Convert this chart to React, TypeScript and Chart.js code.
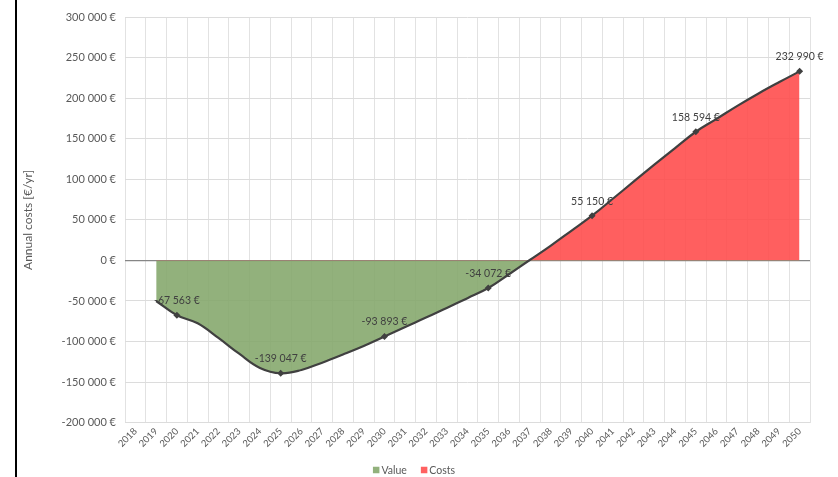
import React, { useEffect, useRef } from 'react';
import { Chart, registerables } from 'chart.js';

Chart.register(...registerables);

const years: string[] = [
  '2018', '2019', '2020', '2021', '2022', '2023', '2024', '2025', '2026', '2027', '2028',
  '2029', '2030', '2031', '2032', '2033', '2034', '2035', '2036', '2037', '2038', '2039',
  '2040', '2041', '2042', '2043', '2044', '2045', '2046', '2047', '2048', '2049', '2050',
];

const annualCosts: (number | null)[] = [
  null, -50000, -67563, -77500, -95500, -115000, -132500, -139047, -135000, -126000, -116000,
  -105500, -93893, -82000, -70500, -58500, -46500, -34072, -17000, 500, 18000, 36500,
  55150, 76000, 97000, 118000, 138500, 158594, 174500, 190500, 205500, 219500, 232990,
];

const labeledYears: string[] = ['2020', '2025', '2030', '2035', '2040', '2045', '2050'];

const legendNames: string[] = ['Value', 'Costs'];
const legendColors: string[] = ['rgb(146,177,124)', 'rgb(255,97,97)'];

const yMin = -200000;
const yMax = 300000;
const yStep = 50000;

const FONT = "Lato, 'Open Sans', 'DejaVu Sans', sans-serif";

function fmt(n: number): string {
  const s = Math.abs(Math.round(n)).toString().replace(/\B(?=(\d{3})+(?!\d))/g, ' ');
  return (n < 0 ? '-' : '') + s + ' €';
}

const dataLabelPlugin = {
  id: 'dataLabelPlugin',
  afterDatasetsDraw(chart: any) {
    const meta = chart.getDatasetMeta(0);
    const ctx = chart.ctx;
    ctx.save();
    ctx.font = `10.5px ${FONT}`;
    ctx.fillStyle = '#404040';
    ctx.textAlign = 'center';
    ctx.textBaseline = 'middle';
    labeledYears.forEach((yr) => {
      const i = years.indexOf(yr);
      const v = annualCosts[i];
      const pt = meta.data[i];
      if (v == null || !pt) return;
      ctx.fillText(fmt(v), pt.x, pt.y - 14.5);
    });
    ctx.restore();
  },
};

const legendPlugin = {
  id: 'customLegend',
  afterDraw(chart: any) {
    const ctx = chart.ctx;
    ctx.save();
    ctx.font = `10.5px ${FONT}`;
    ctx.textBaseline = 'middle';
    ctx.textAlign = 'left';
    const box = 6.5;
    const gap = 2;
    const itemGap = 14;
    const widths = legendNames.map((n) => box + gap + ctx.measureText(n).width);
    const total = widths.reduce((a, b) => a + b, 0) + itemGap * (legendNames.length - 1);
    let x = 414 - total / 2;
    const cy = 470;
    legendNames.forEach((n, k) => {
      ctx.fillStyle = legendColors[k];
      ctx.fillRect(x, cy - box / 2, box, box);
      ctx.fillStyle = '#595959';
      ctx.fillText(n, x + box + gap, cy + 0.5);
      x += widths[k] + itemGap;
    });
    ctx.restore();
  },
};

export default function App() {
  const canvasRef = useRef<HTMLCanvasElement | null>(null);

  useEffect(() => {
    const canvas = canvasRef.current;
    if (!canvas) return;
    const pointRadius = years.map((y) => (labeledYears.includes(y) ? 3.5 : 0));
    const chart = new Chart(canvas, {
      type: 'line',
      data: {
        labels: years,
        datasets: [
          {
            label: 'Annual costs',
            data: annualCosts,
            borderColor: '#404040',
            borderWidth: 2.2,
            tension: 0.4,
            fill: { target: 'origin', above: 'rgba(255,73,73,0.88)', below: 'rgba(131,166,106,0.88)' },
            pointRadius,
            pointHoverRadius: pointRadius,
            pointStyle: 'rectRot',
            pointBackgroundColor: '#404040',
            pointBorderColor: '#404040',
            pointBorderWidth: 0,
            spanGaps: false,
          } as any,
        ],
      },
      options: {
        responsive: false,
        animation: false,
        layout: { padding: { left: 0, right: 28, top: 17, bottom: 0 } },
        plugins: {
          legend: { display: false },
          tooltip: { enabled: false },
        },
        scales: {
          x: {
            type: 'category',
            offset: true,
            grid: { offset: true, color: '#e2e2e2', drawTicks: false, lineWidth: 1 },
            border: { display: false },
            ticks: {
              autoSkip: false,
              maxRotation: 45,
              minRotation: 45,
              color: '#595959',
              padding: 3,
              font: { family: FONT, size: 9.5 },
            },
            afterFit(scale: any) {
              scale.height = 54.3;
            },
          },
          y: {
            min: yMin,
            max: yMax,
            ticks: {
              stepSize: yStep,
              color: '#595959',
              padding: 9,
              font: { family: FONT, size: 11 },
              callback: (v: any) => fmt(Number(v)),
            },
            grid: {
              drawTicks: false,
              color: (c: any) => (c.tick && c.tick.value === 0 ? '#868686' : '#dcdcdc'),
              lineWidth: (c: any) => (c.tick && c.tick.value === 0 ? 1.3 : 1),
            },
            border: { display: false },
            title: {
              display: true,
              text: 'Annual costs [€/yr]',
              color: '#595959',
              font: { family: FONT, size: 12 },
              padding: { top: 21, bottom: 0 },
            },
            afterFit(scale: any) {
              scale.width = 125;
            },
          },
        },
      },
      plugins: [dataLabelPlugin, legendPlugin],
    });
    return () => chart.destroy();
  }, []);

  return (
    <div style={{ position: 'fixed', left: 0, top: 0, width: 838, height: 477, background: '#fff' }}>
      <div style={{ position: 'absolute', left: 15, top: 0, width: 2, height: 477, background: '#000' }} />
      <canvas ref={canvasRef} width={838} height={477} style={{ position: 'absolute', left: 0, top: 0 }} />
    </div>
  );
}
